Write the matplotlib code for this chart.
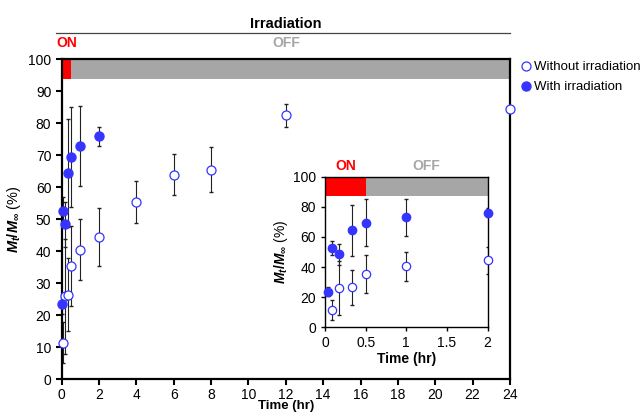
import matplotlib
matplotlib.use("Agg")
import matplotlib.pyplot as plt
from matplotlib.lines import Line2D

plt.rcParams['font.family'] = ['Liberation Sans', 'DejaVu Sans']
plt.rcParams['mathtext.fontset'] = 'custom'
plt.rcParams['mathtext.it'] = 'Liberation Sans:bold:italic'
plt.rcParams['mathtext.rm'] = 'Liberation Sans:bold'
plt.rcParams['mathtext.bf'] = 'Liberation Sans:bold'

# release without irradiation
t_off = [0.083, 0.167, 0.333, 0.5, 1, 2, 4, 6, 8, 12, 24]
y_off = [11.5, 26, 26.5, 35.5, 40.5, 44.5, 55.5, 64, 65.5, 82.5, 84.5]
e_off = [6.5, 18, 11.5, 12.5, 9.5, 9, 6.5, 6.5, 7, 3.5, 0]

# release with irradiation (on for first 0.5 hr)
t_on = [0.033, 0.083, 0.167, 0.333, 0.5, 1, 2]
y_on = [23.5, 52.5, 48.5, 64.5, 69.5, 73, 76]
e_on = [3, 4.5, 7, 17, 15.5, 12.5, 3]

on_end = 0.5
blue = '#3535ff'
red = '#ff0000'
grey = '#a6a6a6'
ylab = r'$M_t/M_\infty$ (%)'

fig = plt.figure(figsize=(6.43, 4.16), dpi=100)
ax = fig.add_axes([0.096, 0.088, 0.697, 0.769])

ax.errorbar(t_off, y_off, yerr=e_off, fmt='none', ecolor='#222222',
            elinewidth=0.8, capsize=1.5, zorder=2)
ax.errorbar(t_on, y_on, yerr=e_on, fmt='none', ecolor='#222222',
            elinewidth=0.8, capsize=1.5, zorder=2)
ax.plot(t_off, y_off, 'o', mfc='white', mec=blue, mew=0.9, ms=6.5,
        label='Without irradiation', zorder=3, clip_on=False)
ax.plot(t_on, y_on, 'o', color=blue, ms=6.5, label='With irradiation',
        zorder=3, clip_on=False)
ax.fill_between([0, on_end], 94, 100, color=red, lw=0, zorder=1)
ax.fill_between([on_end, 24], 94, 100, color=grey, lw=0, zorder=1)

ax.set_xlim(0, 24)
ax.set_ylim(0, 100)
ax.set_xticks(range(0, 25, 2))
ax.set_yticks(range(0, 101, 10))
ax.tick_params(labelsize=10, width=1.5, length=4)
ax.tick_params(axis='x', pad=2)
for s in ax.spines.values():
    s.set_linewidth(1.6)
ax.set_xlabel('Time (hr)', fontsize=9.5, fontweight='bold', labelpad=-1)
ax.set_ylabel(ylab, fontsize=10.5, labelpad=4)

ax.text(0.5, 1.09, 'Irradiation', transform=ax.transAxes, ha='center',
        va='bottom', fontsize=10.5, fontweight='bold')
ax.add_artist(Line2D([-0.013, 1.0], [1.082, 1.082], transform=ax.transAxes,
                     color='#444444', lw=0.9, clip_on=False))
ax.text(-0.013, 1.051, 'ON', transform=ax.transAxes, ha='left', va='center',
        color=red, fontsize=10, fontweight='bold')
ax.text(12, 105.2, 'OFF', ha='center', va='center', color=grey,
        fontsize=10, fontweight='bold')

ax.legend(loc='upper left', bbox_to_anchor=(1.01, 1.02), frameon=False,
          fontsize=9.5, handlelength=0.6, handletextpad=0.25,
          borderaxespad=0.2, labelspacing=0.6)

ins = fig.add_axes([0.5054, 0.2132, 0.253, 0.362])
ins.errorbar(t_off[:6], y_off[:6], yerr=e_off[:6], fmt='none',
             ecolor='#222222', elinewidth=0.8, capsize=1.5, zorder=2)
ins.errorbar(t_on, y_on, yerr=e_on, fmt='none', ecolor='#222222',
             elinewidth=0.8, capsize=1.5, zorder=2)
ins.plot(t_off[:6], y_off[:6], 'o', mfc='white', mec=blue, mew=0.9, ms=6,
         zorder=3, clip_on=False)
ins.plot(t_on, y_on, 'o', color=blue, ms=6, zorder=3, clip_on=False)
ins.fill_between([0, on_end], 87, 100, color=red, lw=0, zorder=1)
ins.fill_between([on_end, 2], 87, 100, color=grey, lw=0, zorder=1)
ins.set_xlim(0, 2)
ins.set_ylim(0, 100)
ins.set_xticks([0, 0.5, 1, 1.5, 2])
ins.set_xticklabels(['0', '0.5', '1', '1.5', '2'])
ins.set_yticks(range(0, 101, 20))
ins.tick_params(labelsize=10, width=1.0, length=3)
for s in ins.spines.values():
    s.set_linewidth(1.0)
ins.set_xlabel('Time (hr)', fontsize=10, fontweight='bold', labelpad=1)
ins.set_ylabel(ylab, fontsize=10, labelpad=2)
ins.text(0.25, 107, 'ON', ha='center', va='center', color=red,
         fontsize=10, fontweight='bold', clip_on=False)
ins.text(1.25, 107, 'OFF', ha='center', va='center', color=grey,
         fontsize=10, fontweight='bold', clip_on=False)

fig.savefig('out.png', dpi=100)
